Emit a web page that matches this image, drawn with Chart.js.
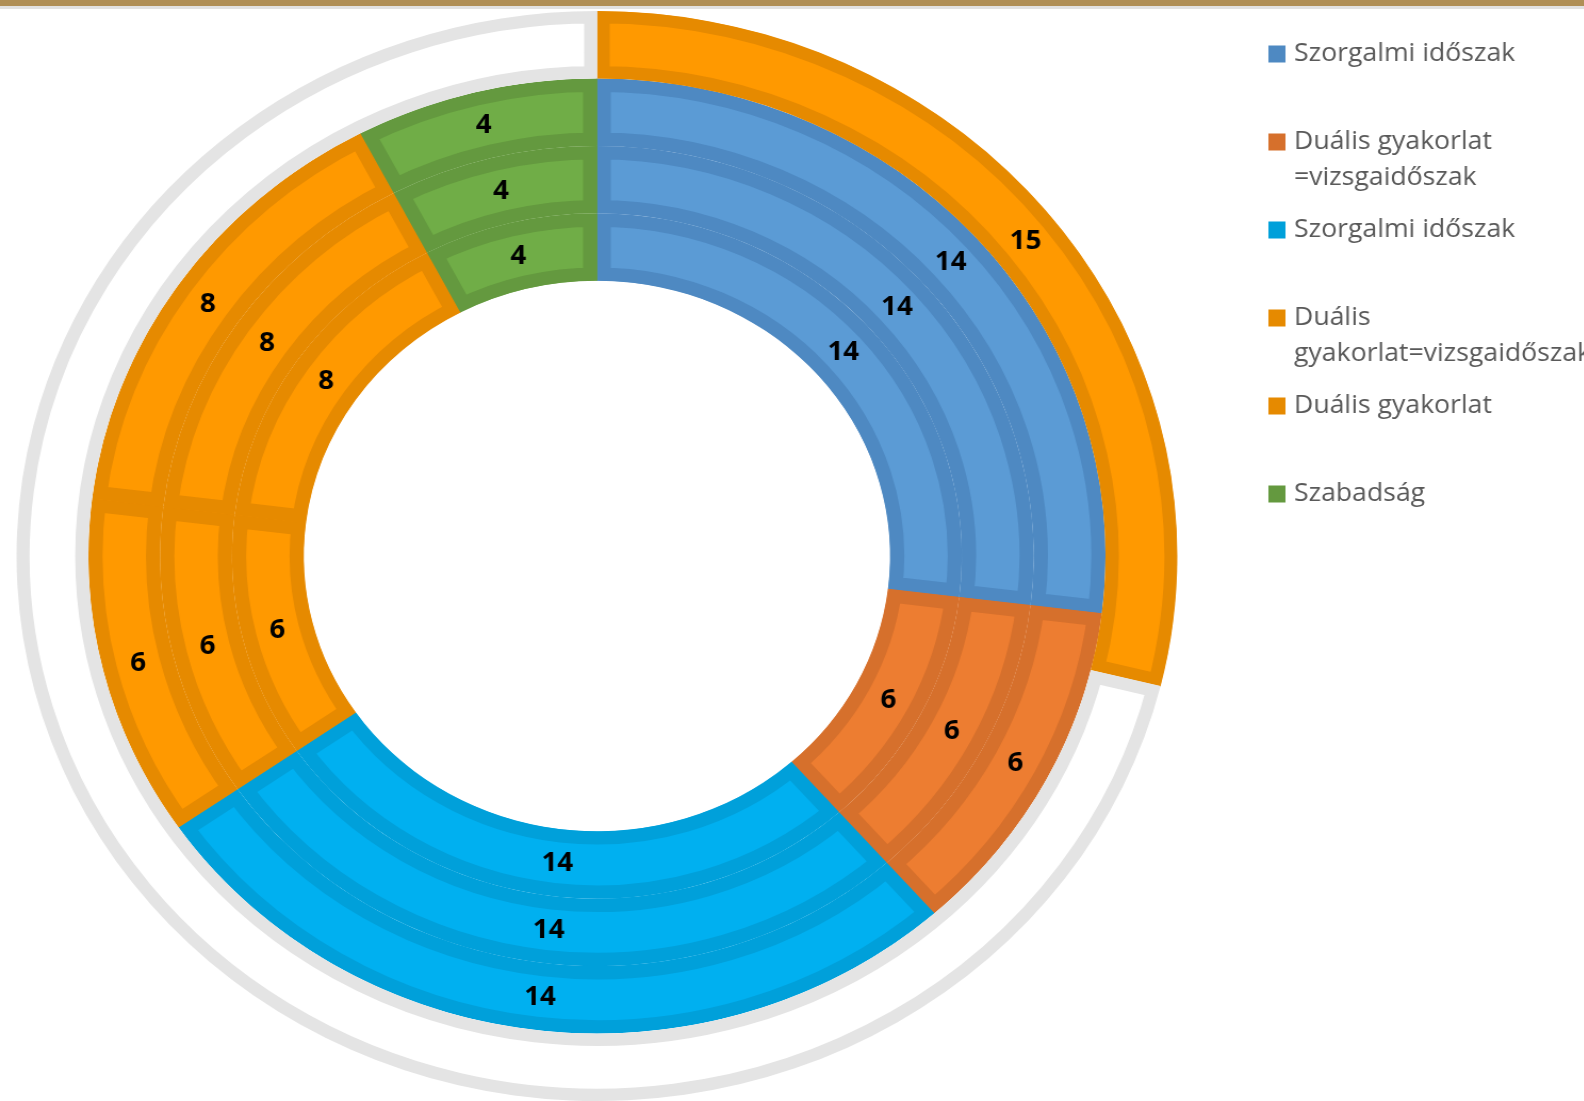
<!DOCTYPE html>
<html><head><meta charset="utf-8">
<script src="https://cdn.jsdelivr.net/npm/chart.js@4"></script>
<style>
html,body{margin:0;padding:0;background:#fff;width:1584px;height:1101px;overflow:hidden;position:relative;}
#wrap{position:absolute;left:0;top:0;width:1488px;height:1112px;transform:scaleX(1.065);transform-origin:0 0;}
#bar{position:absolute;left:0;top:0;width:1584px;height:6px;background:#B08F56;}
#bar2{position:absolute;left:0;top:6px;width:1584px;height:3px;background:#E2E2E2;}
</style></head><body>
<div id="wrap"><canvas id="c" width="1488" height="1112"></canvas></div>
<div id="bar"></div><div id="bar2"></div>
<script>
// Categories (legend text; "\n" marks the legend line wrap)
const categories = ["Szorgalmi időszak", "Duális gyakorlat\n=vizsgaidőszak", "Szorgalmi időszak", "Duális\ngyakorlat=vizsgaidőszak", "Duális gyakorlat", "Szabadság"];
// Outer ring: 15 weeks + remainder of the year
const outerRing = [15, 37];
const outerShowLabel = [true, false];
// Three inner rings (weeks)
const ring1 = [14, 6, 14, 6, 8, 4];
const ring2 = [14, 6, 14, 6, 8, 4];
const ring3 = [14, 6, 14, 6, 8, 4];

const fillColors   = ['#5B9BD5', '#ED7D31', '#00B0F0', '#FF9900', '#FF9900', '#70AD47'];
const borderColors = ['#4E89C2', '#D6702C', '#00A0DA', '#E68A00', '#E68A00', '#64993F'];
const outerFill = ['#FF9900', '#FFFFFF'];
const outerBorder = ['#E68A00', '#E4E4E4'];

const labelPlugin = {
  id: 'valueLabels',
  afterDatasetsDraw(chart) {
    const ctx = chart.ctx;
    ctx.save();
    ctx.font = 'bold 26px "Open Sans"';
    ctx.fillStyle = '#000000';
    ctx.textAlign = 'center';
    ctx.textBaseline = 'middle';
    chart.data.datasets.forEach((ds, di) => {
      const meta = chart.getDatasetMeta(di);
      meta.data.forEach((arc, i) => {
        if (ds.showLabel && !ds.showLabel[i]) return;
        const p = arc.tooltipPosition(true);
        ctx.fillText(String(ds.data[i]), p.x, p.y + 1);
      });
    });
    ctx.restore();
  }
};

const legendPlugin = {
  id: 'sideLegend',
  afterDraw(chart) {
    const ctx = chart.ctx;
    ctx.save();
    ctx.font = '25px "Open Sans"';
    ctx.textBaseline = 'middle';
    ctx.textAlign = 'left';
    categories.forEach((cat, i) => {
      const y0 = 54 + 88 * i;
      ctx.fillStyle = borderColors[i];
      ctx.fillRect(1191, y0 - 8.5, 16, 17);
      ctx.fillStyle = '#595959';
      cat.split('\n').forEach((line, j) => ctx.fillText(line, 1215, y0 + j * 36));
    });
    ctx.restore();
  }
};

new Chart(document.getElementById('c'), {
  type: 'doughnut',
  data: {
    labels: categories.map(c => c.replace('\n', ' ')),
    datasets: [
      { data: outerRing, backgroundColor: outerFill, borderColor: outerBorder, borderWidth: 12, borderAlign: 'inner', showLabel: outerShowLabel },
      { data: ring1, backgroundColor: fillColors, borderColor: borderColors, borderWidth: 13, borderAlign: 'inner' },
      { data: ring2, backgroundColor: fillColors, borderColor: borderColors, borderWidth: 13, borderAlign: 'inner' },
      { data: ring3, backgroundColor: fillColors, borderColor: borderColors, borderWidth: 13, borderAlign: 'inner' }
    ]
  },
  options: {
    responsive: false,
    animation: false,
    radius: 545,
    cutout: '50.5%',
    layout: { padding: { left: 0, top: 0, bottom: 0, right: 367 } },
    plugins: { legend: { display: false }, tooltip: { enabled: false } }
  },
  plugins: [labelPlugin, legendPlugin]
});
</script>
</body></html>
